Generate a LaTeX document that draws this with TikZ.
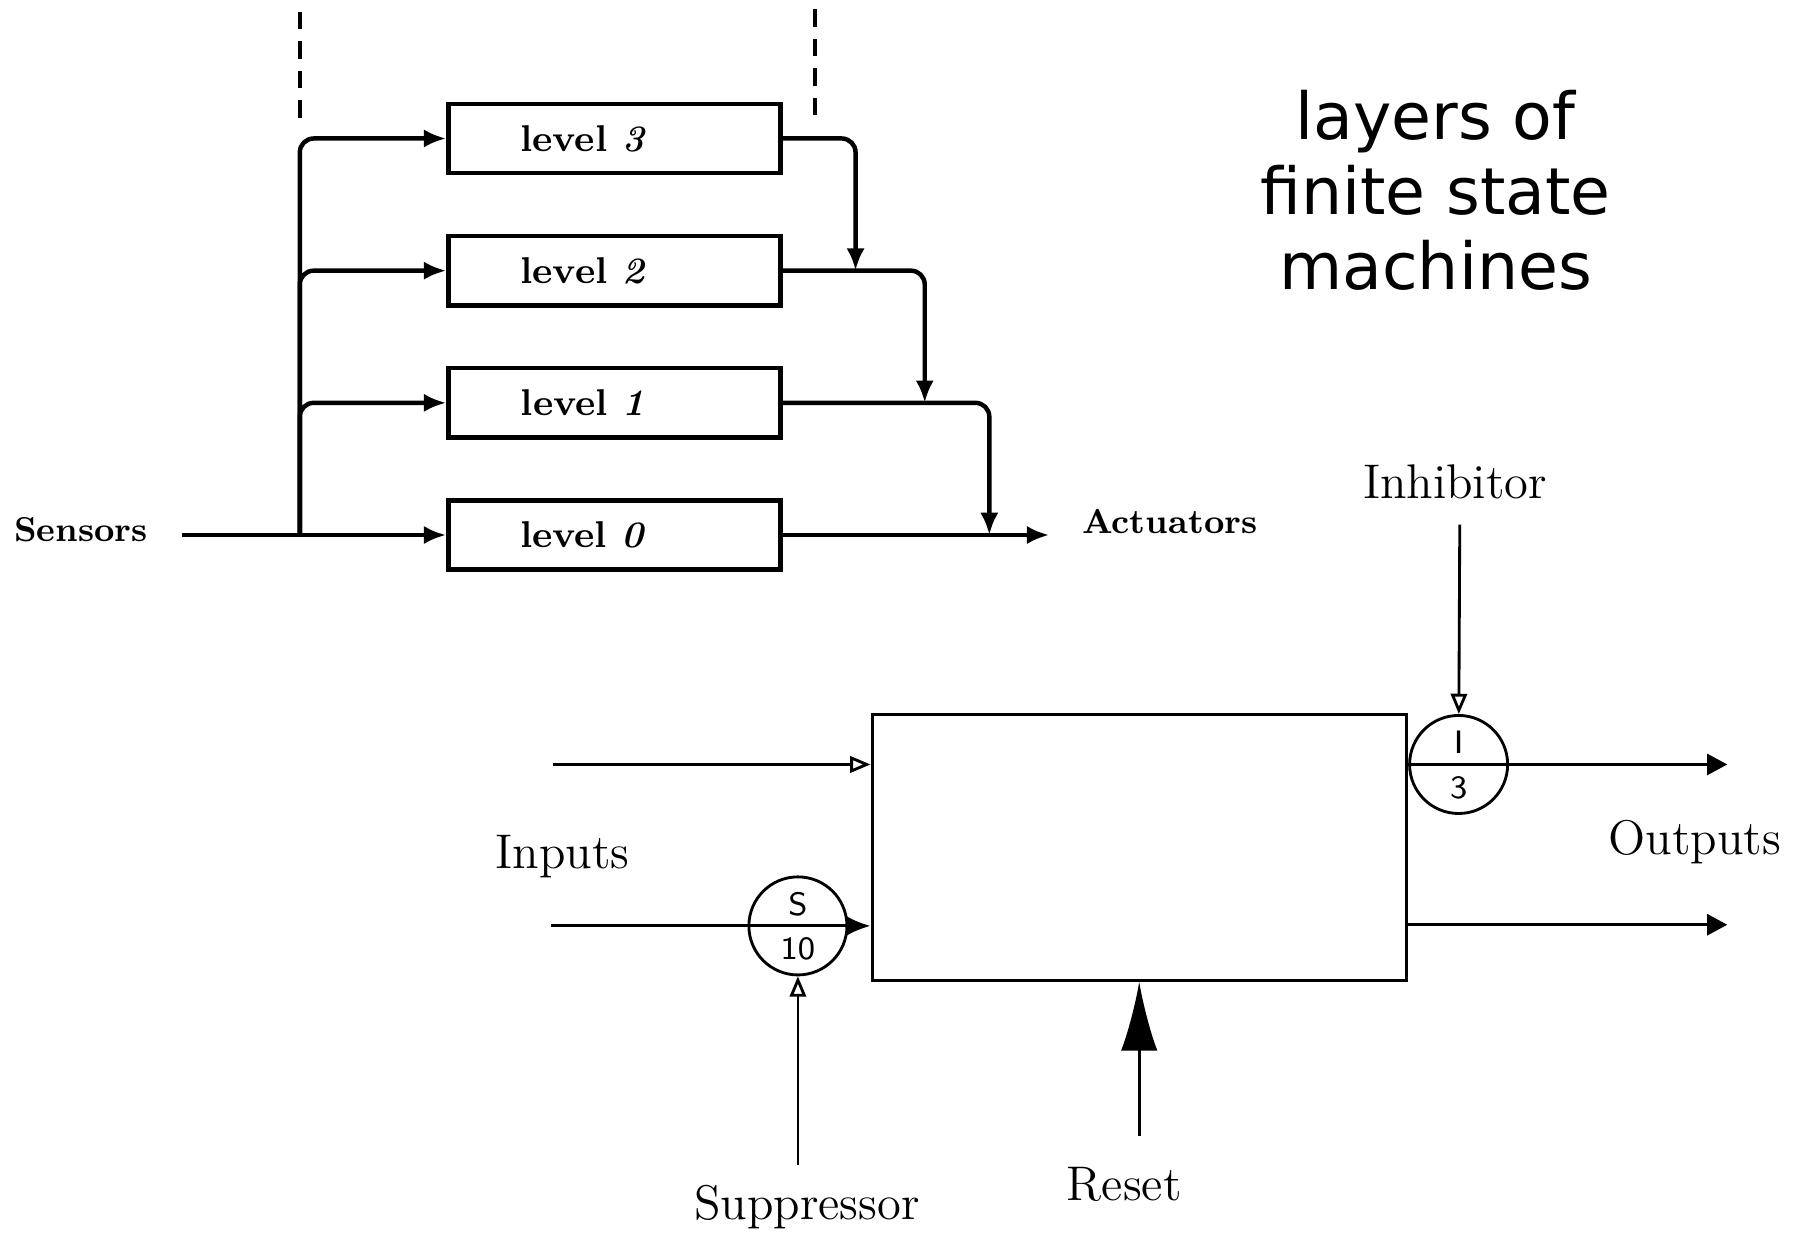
\documentclass[tikz,border=0pt]{standalone}
\usepackage{fontspec}
\newfontfamily\capfont{DejaVu Sans}
\usetikzlibrary{arrows.meta,positioning}
\newcommand{\lvltxt}[1]{level \textit{#1}\hspace*{0.55cm}}

\begin{document}
\begin{tikzpicture}[
  x=0.01cm, y=-0.01cm,
  node distance=0.507cm,
  level/.style={draw, line width=1.1pt, minimum width=2.88cm, minimum height=0.6cm, font=\fontsize{9.2}{10}\selectfont\bfseries},
  bus/.style={line width=1.1pt, rounded corners=0.12cm},
  arrow/.style={bus, -{Latex[length=5.5pt, width=4.5pt]}},
  ghost/.style={line width=1.1pt, dash pattern=on 4.3pt off 3pt},
  heavy/.style={font=\fontsize{8.5}{10}\selectfont\bfseries},
  fsmbox/.style={draw, line width=0.8pt, minimum width=4.63cm, minimum height=2.3cm},
  gate/.style={draw, circle, line width=0.7pt, minimum size=0.85cm, inner sep=0pt},
  gatetag/.style={font=\fontsize{8}{8}\selectfont\sffamily, inner sep=0pt},
  wire/.style={line width=0.7pt},
  hollow/.style={wire, -{Triangle[open, length=5pt, width=4pt]}},
  outarrow/.style={wire, -{Triangle[length=5pt, width=5.2pt]}},
  tag/.style={font=\fontsize{12}{14}\selectfont}
]
\useasboundingbox (0,0) rectangle (1568,1070);

% layered controller
\node[level] (l0) at (533,464) {\lvltxt{0}};
\node[level, above=of l0] (l1) {\lvltxt{1}};
\node[level, above=of l1] (l2) {\lvltxt{2}};
\node[level, above=of l2] (l3) {\lvltxt{3}};

\node[heavy, anchor=west] (sens) at (0,459) {Sensors};
\node[heavy, anchor=west] (act) at (926,452) {Actuators};

\coordinate (s0) at (158,464);
\coordinate (b0) at (260,464);
\coordinate (j2) at (742,0 |- l2.east);
\coordinate (j1) at (802,0 |- l1.east);
\coordinate (j0) at (858,0 |- l0.east);
\coordinate (aout) at (910,0 |- l0.east);

\draw[arrow] (s0) -- (l0);
\foreach \n in {1,2,3}
  \draw[arrow] (b0) |- (l\n);
\draw[arrow] (l3.east) -| (j2);
\draw[arrow] (l2.east) -| (j1);
\draw[arrow] (l1.east) -| (j0);
\draw[arrow] (l0.east) -- (aout);

\coordinate (d1) at (260,10);
\coordinate (d1e) at (260,110);
\coordinate (d2) at (707,8);
\coordinate (d2e) at (707,108);
\draw[ghost] (d1) -- (d1e);
\draw[ghost] (d2) -- (d2e);

\node[font=\capfont\fontsize{16}{18.5}\selectfont, align=center] (title) at (1245,165) {layers of\\finite state\\machines};

% single module
\node[fsmbox] (fsm) at (988,735) {};
\node[gate] (supp) at (692,803) {};
\node[gate] (inhib) at (1265,663) {};
\node[gatetag] (supp-s) at ([yshift=0.19cm]supp.center) {S};
\node[gatetag] (supp-n) at ([yshift=-0.2cm]supp.center) {10};
\node[gatetag] (inhib-i) at ([yshift=0.19cm]inhib.center) {I};
\node[gatetag] (inhib-n) at ([yshift=-0.2cm]inhib.center) {3};

\node[tag] (inlab) at (488,743) {Inputs};
\node[tag] (outlab) at (1470,730) {Outputs};
\node[tag] (inhlab) at (1262,418) {Inhibitor};
\node[tag] (suplab) at (700,1047) {Suppressor};
\node[tag] (rstlab) at (975,1027) {Reset};

\coordinate (in1) at (480,663);
\coordinate (in2) at (478,803);
\coordinate (sup0) at (692,1010);
\coordinate (inh0) at (1266,455);
\coordinate (rst0) at (988,985);
\coordinate (o1) at (1498,663);
\coordinate (o2) at (1498,802);

\draw[hollow] (in1) -- (in1 -| fsm.west);
\draw[wire, -{Latex[length=6pt, width=5pt]}] (in2) -- (in2 -| fsm.west);
\draw[hollow] (sup0) -- (supp);
\draw[hollow] (inh0) -- (inhib);
\draw[wire, -{Latex[length=17pt, width=9pt]}] (rst0) -- (rst0 |- fsm.south);
\draw[outarrow] (o1 -| fsm.east) -- (o1);
\draw[outarrow] (o2 -| fsm.east) -- (o2);
\end{tikzpicture}
\end{document}
